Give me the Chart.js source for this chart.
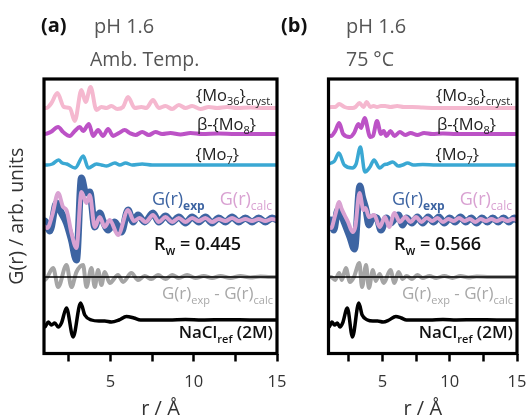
<!DOCTYPE html>
<html><head><meta charset="utf-8">
<script src="https://cdn.jsdelivr.net/npm/chart.js@4.4.1/dist/chart.umd.min.js"></script>
<style>
html,body{margin:0;padding:0;background:#fff;width:526px;height:418px;overflow:hidden;position:relative}
#wa{position:absolute;left:0;top:0;width:300px;height:418px}
#wb{position:absolute;left:250px;top:0;width:290px;height:418px}
canvas{display:block}
</style></head><body>
<div id="wa"><canvas id="ca" width="300" height="418"></canvas></div>
<div id="wb"><canvas id="cb" width="290" height="418"></canvas></div>
<script>
// ---------- data ----------
const R_MIN = 1, R_MAX = 15;
const X_TICKS = [2.5, 5, 7.5, 10, 12.5, 15];
const X_LABELED = [5, 10, 15];
const DIFF_ZERO_LINE = [[1, 0], [15, 0]];
// vertical offsets of the stacked curves (arb. units)
const OFF_MO36 = 245.5, OFF_MO8 = 219.5, OFF_MO7 = 188.5, OFF_FIT = 133.5, OFF_DIFF = 76.5, OFF_NACL = 33.5;

// panel (a) pH 1.6, ambient temperature  -- [r, G]
const A_MO36 = [[1,0],[1.15,0],[1.45,5],[1.8,15],[2.2,1],[2.55,0],[2.85,-13],[3.25,18],[3.5,6],[3.8,21],[4.15,-2],[4.45,1],[4.75,0],[5.05,2],[5.4,-1],[5.75,1],[6.05,11],[6.45,0],[6.85,1],[7.15,0],[7.55,8],[7.9,0],[8.3,2],[8.7,-1],[9.1,3],[9.5,0],[9.9,2],[10.4,-1],[10.9,1],[11.4,0],[12,1],[12.6,0],[13.4,0.5],[14.2,0],[15,0]];
const A_MO8 = [[1,0],[1.05,0],[1.4,2],[1.85,7],[2.15,2],[2.55,-2],[2.85,3],[3.15,7],[3.35,3],[3.7,10],[3.95,-2],[4.25,4],[4.55,-2],[4.85,5],[5.15,-2],[5.5,1],[5.85,4],[6.15,1],[6.5,-1],[6.9,2],[7.3,-1],[7.7,2],[8.1,0],[8.6,1],[9.2,-0.5],[9.8,1],[10.5,0],[11.5,0.5],[12.5,0],[15,0]];
const A_MO7 = [[1,0],[1.2,0],[1.5,1],[1.87,5],[2.1,2],[2.37,1],[2.87,-3],[3.36,9],[3.66,-3],[4.16,1],[4.46,0],[4.76,-1],[5.26,2],[5.56,0],[5.9,2],[6.3,0],[6.9,1],[7.5,0],[15,0]];
const A_EXP = [[1,-1],[1.05,-1],[1.35,-11],[1.75,17],[2.05,7],[2.35,-3],[2.65,-20],[2.95,-40],[3.25,42],[3.5,27],[3.75,28],[4.05,-7],[4.35,7],[4.55,-1],[4.85,-10],[5.25,-2],[5.65,-12],[6.05,10],[6.35,-2],[6.65,5],[7.05,-2],[7.55,7],[7.9,-2],[8.3,4],[8.7,-2],[9.1,3],[9.5,-3],[9.9,3],[10.3,-2],[10.7,3],[11.1,-3],[11.5,2],[11.9,-2],[12.3,3],[12.7,-2],[13.1,2],[13.5,-2],[13.9,2],[14.3,-2],[14.7,2],[15,0]];
const A_CALC = [[1,-6],[1.2,-8],[1.5,5],[1.85,27],[2.15,13],[2.35,10],[2.65,-13],[2.95,-28],[3.25,28],[3.55,17],[3.75,25],[4.05,-7],[4.35,3],[4.65,-7],[4.95,0],[5.45,-15],[6.05,10],[6.4,-1],[6.75,2],[7.1,-2],[7.55,5],[7.9,-2],[8.3,3],[8.7,-2],[9.1,2],[9.5,-2],[9.9,2],[10.3,-1],[10.7,2],[11.1,-2],[11.5,1],[11.9,-1],[12.3,2],[12.7,-1],[13.1,1],[13.5,-1],[13.9,1],[14.3,-1],[14.7,1],[15,0]];
const A_DIFF = [[1,-3],[1.05,-3],[1.55,9],[1.85,-10],[2.35,12],[2.65,-10],[2.95,5],[3.35,12],[3.55,-10],[3.85,9],[4.05,-10],[4.25,7],[4.45,-8],[4.65,5],[4.95,-6],[5.45,2],[5.75,-5],[6.25,4],[6.65,-3],[7.05,1],[7.45,-2],[7.85,2],[8.3,-2],[8.7,2],[9.1,-1],[9.6,2],[10.1,-1],[10.6,1],[11.1,-1],[11.6,1],[12.2,-1],[12.8,1],[13.4,-0.5],[14,0.5],[14.6,0],[15,0]];
const A_NACL = [[1,-7],[1.05,-7],[1.25,-2],[1.45,-5],[1.65,-3],[1.85,-7],[2.05,-3],[2.35,12],[2.75,-17],[3.2,17],[3.45,5],[3.85,0],[4.3,-1],[4.65,-1],[5.05,-2],[5.5,0],[5.95,3.5],[6.4,2],[6.8,0],[7.5,0],[8.5,0],[9.5,0.5],[10.5,0],[12,0.3],[13.5,0],[15,0]];

// panel (b) pH 1.6, 75 °C
const B_MO36 = [[1,0],[1.19,1],[1.5,1],[1.79,4],[2.19,1],[2.5,0],[2.79,0],[3.0,1],[3.3,5],[3.6,1],[3.84,6],[4.1,1],[4.35,2],[4.6,1],[4.9,2],[5.2,2],[5.6,1],[6.1,2],[6.6,1],[7.2,1],[8,0.5],[9,0],[15,0]];
const B_MO8 = [[1,-1],[1.19,-2],[1.5,3],[1.79,11],[2.09,0],[2.59,-3],[2.9,1],[3.22,10],[3.42,6],[3.68,16],[4.1,-3],[4.3,-2],[4.6,13],[4.9,0],[5.1,3],[5.3,-2],[5.6,3],[5.9,-2],[6.3,2],[6.7,-1],[7.1,1],[7.6,-1],[8.1,1],[8.7,0],[9.5,0.5],[10.5,0],[15,0]];
const B_MO7 = [[1,1],[1.2,2],[1.45,4],[1.77,12],[2.17,0],[2.77,-3],[3.05,1],[3.37,18],[3.7,-7],[4.08,-2],[4.38,5],[4.8,-3],[5.1,0],[5.38,1],[5.78,3],[6.18,-1],[6.5,0],[6.88,2],[7.3,0],[8,0.5],[9,0],[15,0]];
const B_EXP = [[1,0],[1.19,0],[1.39,-10],[1.69,10],[1.89,7],[2.19,-3],[2.59,-17],[2.93,-29],[3.33,34],[3.52,23],[3.79,10],[4.0,-5],[4.3,3],[4.6,2],[4.9,-10],[5.3,2],[5.6,-3],[6.2,5],[6.5,-5],[6.8,2],[7.2,-3],[7.6,3],[8.0,-3],[8.4,3],[8.8,-2],[9.2,3],[9.6,-3],[10.0,2],[10.4,-2],[10.8,3],[11.2,-2],[11.6,2],[12.0,-3],[12.4,2],[12.8,-2],[13.2,2],[13.6,-2],[14.0,2],[14.4,-2],[14.8,2],[15,0]];
const B_CALC = [[1,-7],[1.19,-8],[1.5,5],[1.79,18],[1.95,12],[2.19,5],[2.45,-2],[2.79,-12],[3.0,-6],[3.3,27],[3.6,10],[3.75,12],[4.0,3],[4.4,5],[4.8,-7],[5.2,3],[5.5,-7],[5.9,7],[6.3,-2],[6.7,3],[7.1,-2],[7.5,3],[7.9,-2],[8.3,2],[8.7,-1],[9.1,2],[9.5,-2],[9.9,1],[10.3,-1],[10.7,2],[11.1,-1],[11.5,1],[11.9,-2],[12.3,1],[12.7,-1],[13.1,1],[13.5,-1],[13.9,1],[14.3,-1],[14.7,1],[15,0]];
const B_DIFF = [[1,0],[1.19,0],[1.49,-3],[1.79,4],[1.99,-3],[2.29,9],[2.59,-5],[2.89,0],[3.29,14],[3.49,-10],[3.79,12],[4.0,-11],[4.3,7],[4.5,-4],[4.8,3],[5.1,-6],[5.6,7],[5.9,-6],[6.2,5],[6.5,-2],[6.8,1],[7.2,-2],[7.6,2],[8.0,-1],[8.5,1],[9.0,-1],[9.6,1],[10.2,-1],[10.8,1],[11.4,-0.5],[12,0.5],[13,0],[15,0]];
const B_NACL = [[1,-7],[1.05,-7],[1.25,-2],[1.45,-5],[1.65,-3],[1.85,-7],[2.05,-3],[2.4,12],[2.78,-17],[3.25,17],[3.5,5],[3.9,0],[4.3,-1],[4.65,-1],[5.05,-2],[5.5,0],[6.0,3.5],[6.4,2],[6.8,0],[7.5,0],[8.5,0],[9.5,0.5],[10.5,0],[12,0.3],[13.5,0],[15,0]];

const RW_A = '0.445', RW_B = '0.566';

// ---------- styles ----------
const FONT = "'Open Sans', 'Noto Sans', sans-serif";
const C = {mo36:'#f5b8cf', mo8:'#bc52c6', mo7:'#3aa8d3', exp:'#3d64a2', calc:'#d9a2d2', diff:'#a5a5a5', nacl:'#000000'};

function ds(points, off, color, width, order){
  return {data: points.map(p => ({x: p[0], y: p[1] + off})), borderColor: color, borderWidth: width,
    pointRadius: 0, cubicInterpolationMode: 'monotone', fill: false, order: order,
    borderJoinStyle: 'round', borderCapStyle: 'round'};
}

function rich(ctx, parts, x, y, align, size, color, weight){
  const fN = w => `${w} ${size}px ${FONT}`;
  const fS = w => `${w} ${Math.round(size*0.66)}px ${FONT}`;
  const fontOf = p => p[1] ? fS(p[2] || weight) : fN(p[2] || weight);
  let w = 0;
  parts.forEach(p => { ctx.font = fontOf(p); w += ctx.measureText(p[0]).width; });
  let cx = align === 'right' ? x - w : (align === 'center' ? x - w/2 : x);
  ctx.fillStyle = color; ctx.textBaseline = 'alphabetic'; ctx.textAlign = 'left';
  parts.forEach(p => { ctx.font = fontOf(p); ctx.fillText(p[0], cx, p[1] ? y + size*0.27 : y); cx += ctx.measureText(p[0]).width; });
}

function panelPlugin(cfg){
  return {
    id: 'panel' + cfg.tag,
    afterDatasetsDraw(chart){
      const ctx = chart.ctx, a = chart.chartArea;
      ctx.save();
      ctx.strokeStyle = '#000'; ctx.lineWidth = 3.2;
      ctx.strokeRect(a.left, a.top, a.right - a.left, a.bottom - a.top);
      const R = a.right;
      rich(ctx, [['{Mo',0],['36',1],['}',0],['cryst.',1]], R-4, 101, 'right', 16.5, '#222', 'normal');
      rich(ctx, [['β-{Mo',0],['8',1],['}',0]], R-21, 130, 'right', 16.5, '#222', 'normal');
      rich(ctx, [['{Mo',0],['7',1],['}',0]], R-38, 160, 'right', 16.5, '#222', 'normal');
      rich(ctx, [['G(r)',0],['exp',1,'bold']], R-125, 205, 'left', 18, C.exp, 'normal');
      rich(ctx, [['G(r)',0],['calc',1]], R-5, 205, 'right', 18, C.calc, 'normal');
      rich(ctx, [['R',0],['w',1],[' = ' + cfg.rw,0]], R-123, 250, 'left', 18, '#111', '600');
      rich(ctx, [['G(r)',0],['exp',1],[' - G(r)',0],['calc',1]], R-4, 299, 'right', 17, '#a8a8a8', 'normal');
      rich(ctx, [['NaCl',0],['ref',1],[' (2M)',0]], R-4, 338, 'right', 17, '#111', '600');
      // panel headings (page coordinates shifted by canvas offset)
      const o = cfg.canvasLeft;
      rich(ctx, [[cfg.letter,0]], cfg.letterX - o, 32, 'left', 20, '#111', 'bold');
      rich(ctx, [['pH 1.6',0]], cfg.headX - o, 33, 'left', 20, '#555', 'normal');
      rich(ctx, [[cfg.cond,0]], cfg.headX2 - o, 66, 'left', 19.5, '#555', 'normal');
      ctx.restore();
    }
  };
}

function makeChart(id, sets, cfg){
  return new Chart(document.getElementById(id), {
    type: 'line',
    data: {datasets: sets},
    options: {
      responsive: false, animation: false, devicePixelRatio: 1,
      layout: {padding: {left: cfg.padL, right: cfg.padR, top: 79, bottom: 0}},
      plugins: {legend: {display: false}, tooltip: {enabled: false}},
      scales: {
        x: {
          type: 'linear', min: R_MIN, max: R_MAX,
          afterBuildTicks: s => { s.ticks = X_TICKS.map(v => ({value: v})); },
          afterFit: s => { s.height = 64.5; },
          grid: {display: true, drawOnChartArea: false, drawTicks: true, tickLength: 8, tickWidth: 2.5, tickColor: '#000'},
          border: {display: false},
          ticks: {callback: v => X_LABELED.includes(v) ? String(v) : '', font: {family: FONT, size: 16.5}, color: '#333', padding: 11, maxRotation: 0, autoSkip: false},
          title: {display: true, text: 'r / Å', font: {family: FONT, size: 20, lineHeight: 0.9}, color: '#333', padding: {top: 0, bottom: 0}}
        },
        y: {
          min: 0, max: 274.5, display: cfg.showY,
          afterFit: s => { s.width = 44; },
          grid: {display: false}, border: {display: false}, ticks: {display: false},
          title: {display: true, text: 'G(r) / arb. units', font: {family: FONT, size: 19.5}, color: '#333', padding: {top: 6, bottom: 0}}
        }
      }
    },
    plugins: [panelPlugin(cfg)]
  });
}

function buildSets(d){
  return [
    ds(d.calc, OFF_FIT, C.calc, 4, 1),
    ds(d.exp, OFF_FIT, C.exp, 7, 2),
    ds(DIFF_ZERO_LINE, OFF_DIFF, '#000', 1.5, 3),
    ds(d.diff, OFF_DIFF, C.diff, 4, 4),
    ds(d.nacl, OFF_NACL, C.nacl, 3.5, 5),
    ds(d.mo7, OFF_MO7, C.mo7, 3.5, 6),
    ds(d.mo8, OFF_MO8, C.mo8, 4, 7),
    ds(d.mo36, OFF_MO36, C.mo36, 4, 8)
  ];
}

makeChart('ca', buildSets({mo36:A_MO36, mo8:A_MO8, mo7:A_MO7, exp:A_EXP, calc:A_CALC, diff:A_DIFF, nacl:A_NACL}),
  {tag:'a', padL:0, padR:23, showY:true, rw:RW_A, canvasLeft:0, letter:'(a)', letterX:41, headX:94, headX2:90, cond:'Amb. Temp.'});
makeChart('cb', buildSets({mo36:B_MO36, mo8:B_MO8, mo7:B_MO7, exp:B_EXP, calc:B_CALC, diff:B_DIFF, nacl:B_NACL}),
  {tag:'b', padL:34.5, padR:23, showY:false, rw:RW_B, canvasLeft:250, letter:'(b)', letterX:281, headX:346, headX2:346, cond:'75 °C'});
</script></body></html>
